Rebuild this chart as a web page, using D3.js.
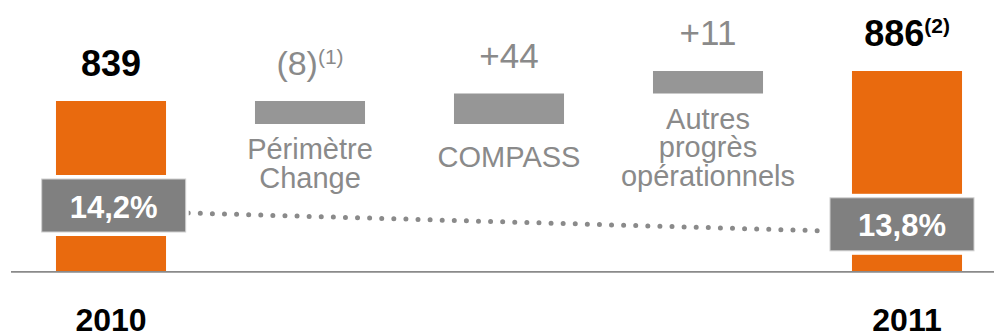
<!DOCTYPE html>
<html>
<head>
<meta charset="utf-8">
<script src="https://cdn.jsdelivr.net/npm/d3@7/dist/d3.min.js"></script>
<style>
  html, body { margin: 0; padding: 0; background: #fff; }
  svg { display: block; font-family: "Liberation Sans", Arial, Helvetica, sans-serif; }
</style>
</head>
<body>
<svg id="chart" width="994" height="335"></svg>
<script>
// Bridge of operating result, 2010 -> 2011
const steps      = ["2010", "Périmètre Change", "COMPASS", "Autres progrès opérationnels", "2011"];
const stepLines  = [[], ["Périmètre", "Change"], ["COMPASS"], ["Autres", "progrès", "opérationnels"], []];
const stepKinds  = ["total", "delta", "delta", "delta", "total"];
const values     = [839, -8, 44, 11, 886];
const valueLabels = ["839", "(8)", "+44", "+11", "886"];
const valueNotes  = ["", "(1)", "", "", "(2)"];
const yearLabels  = ["2010", "", "", "", "2011"];
const marginValues = [14.2, 13.8];
const marginLabels = ["14,2%", "13,8%"];
const marginSteps  = ["2010", "2011"];

const ORANGE = "#E96A0E";
const GREY_BAR = "#969696";
const GREY_BOX = "#808080";
const GREY_TEXT = "#8a8a8a";

const svg = d3.select("#chart");
const W = 994;
const baseY = 271;

// Waterfall segments
let running = 0;
const segs = values.map((v, i) => {
  let y0, y1;
  if (stepKinds[i] === "total") { y0 = 0; y1 = v; running = v; }
  else { y0 = running; y1 = running + v; running = y1; }
  return { step: steps[i], i, lo: Math.min(y0, y1), hi: Math.max(y0, y1), v };
});

// Broken value axis: piecewise scale through the cumulative levels
const levels = Array.from(new Set(segs.flatMap(s => [s.lo, s.hi]))).sort((a, b) => a - b);
const y = d3.scaleLinear()
  .domain(levels)                       // [0, 831, 839, 875, 886]
  .range([baseY, 124, 101, 93.5, 71]);

const x = d3.scaleBand()
  .domain(steps)
  .range([11.5, 1006.5])
  .paddingInner(0.447)
  .paddingOuter(0.2235);

const cx = s => x(s) + x.bandwidth() / 2;

// Bars
svg.append("g").selectAll("rect")
  .data(segs)
  .join("rect")
  .attr("x", d => x(d.step))
  .attr("width", x.bandwidth())
  .attr("y", d => y(d.hi))
  .attr("height", d => y(d.lo) - y(d.hi))
  .attr("fill", d => stepKinds[d.i] === "total" ? ORANGE : GREY_BAR);

// Baseline
svg.append("line")
  .attr("x1", 11).attr("x2", W)
  .attr("y1", baseY + 0.9).attr("y2", baseY + 0.9)
  .attr("stroke", "#8a8a8a").attr("stroke-width", 1.8);

// Value labels above bars
const vl = svg.append("g").selectAll("text")
  .data(segs)
  .join("text")
  .attr("x", d => cx(d.step))
  .attr("y", d => y(d.hi) - (stepKinds[d.i] === "total" ? 25 : 26))
  .attr("text-anchor", "middle")
  .attr("font-size", d => stepKinds[d.i] === "total" ? 36 : (d.v < 0 ? 34 : 35))
  .attr("font-weight", d => stepKinds[d.i] === "total" ? "bold" : "normal")
  .attr("fill", d => stepKinds[d.i] === "total" ? "#000" : GREY_TEXT);
vl.append("tspan").text(d => valueLabels[d.i]);
vl.filter(d => valueNotes[d.i] !== "")
  .append("tspan")
  .attr("dy", d => stepKinds[d.i] === "total" ? -13 : -11)
  .attr("font-size", d => stepKinds[d.i] === "total" ? 21 : 21)
  .text(d => valueNotes[d.i]);

// Category labels under the delta bars
const lineH = 28.5;
svg.append("g").selectAll("text")
  .data(segs.filter(d => stepLines[d.i].length))
  .join("text")
  .attr("text-anchor", "middle")
  .attr("font-size", 29)
  .attr("fill", GREY_TEXT)
  .each(function (d) {
    const lines = stepLines[d.i];
    const y0 = y(d.lo) + 35 + (lines.length === 1 ? 8 : 0);
    d3.select(this).selectAll("tspan")
      .data(lines)
      .join("tspan")
      .attr("x", cx(d.step))
      .attr("y", (t, k) => y0 + k * lineH)
      .text(t => t);
  });

// Year labels
svg.append("g").selectAll("text")
  .data(segs.filter(d => yearLabels[d.i]))
  .join("text")
  .attr("x", d => cx(d.step))
  .attr("y", 331)
  .attr("text-anchor", "middle")
  .attr("font-size", 32)
  .attr("font-weight", "bold")
  .attr("fill", "#000")
  .text(d => yearLabels[d.i]);

// Margin badges on the total bars
const yM = d3.scaleLinear().domain([13.8, 14.2]).range([224.3, 205.5]);
const boxW = 144, boxH = 53;
const nudge = [2.7, -5];
const badges = marginValues.map((m, k) => {
  const c = cx(marginSteps[k]) + nudge[k];
  return { m, label: marginLabels[k], c, cy: yM(m) };
});

// Dotted trend between the badges
const a = badges[0], b = badges[1];
svg.append("line")
  .attr("x1", a.c + boxW / 2 + 2.5).attr("y1", a.cy + 7.5)
  .attr("x2", b.c - boxW / 2 - 8).attr("y2", b.cy + 6.5)
  .attr("stroke", "#8a8a8a")
  .attr("stroke-width", 5)
  .attr("stroke-linecap", "round")
  .attr("stroke-dasharray", "0 12.1");

const bg = svg.append("g").selectAll("g")
  .data(badges)
  .join("g");
bg.append("rect")
  .attr("x", d => d.c - boxW / 2 - 3)
  .attr("y", d => d.cy - boxH / 2 - 4)
  .attr("width", boxW + 6)
  .attr("height", boxH + 8)
  .attr("fill", "#fff");
bg.append("rect")
  .attr("x", d => d.c - boxW / 2)
  .attr("y", d => d.cy - boxH / 2)
  .attr("width", boxW)
  .attr("height", boxH)
  .attr("fill", GREY_BOX)
  .attr("stroke", "#d0d0d0")
  .attr("stroke-width", 1);
bg.append("text")
  .attr("x", d => d.c)
  .attr("y", d => d.cy + 12)
  .attr("text-anchor", "middle")
  .attr("font-size", 31)
  .attr("font-weight", "bold")
  .attr("fill", "#fff")
  .text(d => d.label);
</script>
</body>
</html>
